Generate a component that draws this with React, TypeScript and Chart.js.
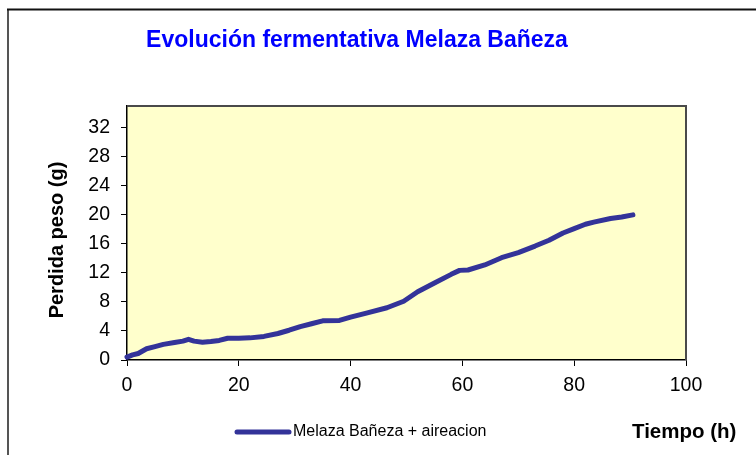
import React, { useEffect, useRef } from "react";
import { Chart, registerables } from "chart.js";

Chart.register(...registerables);

const TITLE = "Evolución fermentativa Melaza Bañeza";
const SERIES_LABEL = "Melaza Bañeza + aireacion";
const X_TITLE = "Tiempo (h)";
const Y_TITLE = "Perdida peso (g)";

const hours = [
  0, 1, 2, 3.5, 5, 6.5, 8.5, 10, 11, 12,
  13.5, 15, 16.5, 18, 20, 22, 24.5, 27, 29, 31,
  33, 35, 38, 40, 43, 46.5, 49.5, 52, 55, 58,
  59.5, 61, 64, 67, 70, 73, 75.5, 78, 80, 82,
  83.5, 86.5, 88.5, 90.5,
];
const weightLoss = [
  0.4, 0.7, 0.9, 1.55, 1.85, 2.15, 2.4, 2.6, 2.85, 2.6,
  2.45, 2.55, 2.7, 3.0, 3.0, 3.05, 3.25, 3.65, 4.1, 4.6,
  5.0, 5.4, 5.45, 5.9, 6.5, 7.2, 8.1, 9.4, 10.6, 11.8,
  12.35, 12.4, 13.1, 14.1, 14.8, 15.7, 16.5, 17.5, 18.1, 18.7,
  19.0, 19.5, 19.7, 20.0,
];
const xTicks = [0, 20, 40, 60, 80, 100];
const yTicks = [0, 4, 8, 12, 16, 20, 24, 28, 32];

const CW = 756;
const CH = 455;
const FONT = "'Liberation Sans', Arial, sans-serif";
const LINE_COLOR = "#333399";

const decor = {
  id: "decor",
  beforeDraw(chart: any) {
    const { ctx, chartArea: a } = chart;
    ctx.save();
    ctx.fillStyle = "#ffffff";
    ctx.fillRect(0, 0, CW, CH);
    ctx.fillStyle = "#FFFFCC";
    ctx.fillRect(a.left, a.top, a.right - a.left, a.bottom - a.top);
    // outer chart border (left and top visible)
    ctx.lineWidth = 2;
    ctx.strokeStyle = "#555555";
    ctx.beginPath();
    ctx.moveTo(8, CH + 5);
    ctx.lineTo(8, 9);
    ctx.stroke();
    ctx.strokeStyle = "#111111";
    ctx.beginPath();
    ctx.moveTo(7, 9.5);
    ctx.lineTo(CW + 5, 9.5);
    ctx.stroke();
    ctx.restore();
  },
  afterDraw(chart: any) {
    const { ctx, chartArea: a } = chart;
    ctx.save();
    // plot border top & right
    ctx.strokeStyle = "#4a4a4a";
    ctx.lineWidth = 2;
    ctx.beginPath();
    ctx.moveTo(a.left, a.top);
    ctx.lineTo(a.right, a.top);
    ctx.lineTo(a.right, a.bottom);
    ctx.stroke();

    // title
    ctx.fillStyle = "#0000FF";
    ctx.font = `bold 23px ${FONT}`;
    ctx.textAlign = "center";
    ctx.textBaseline = "middle";
    ctx.fillText(TITLE, 357, 41);

    // y title
    ctx.save();
    ctx.translate(57, 240);
    ctx.rotate(-Math.PI / 2);
    ctx.fillStyle = "#000";
    ctx.font = `bold 20px ${FONT}`;
    ctx.textAlign = "center";
    ctx.textBaseline = "middle";
    ctx.fillText(Y_TITLE, 0, 0);
    ctx.restore();

    // legend
    const ds = chart.data.datasets[0];
    ctx.strokeStyle = ds.borderColor;
    ctx.lineWidth = 5;
    ctx.lineCap = "round";
    ctx.beginPath();
    ctx.moveTo(237, 432);
    ctx.lineTo(289, 432);
    ctx.stroke();
    ctx.fillStyle = "#000";
    ctx.font = `16px ${FONT}`;
    ctx.textAlign = "left";
    ctx.textBaseline = "middle";
    ctx.fillText(ds.label, 293, 432);

    // x title
    ctx.font = `bold 20.5px ${FONT}`;
    ctx.textAlign = "left";
    ctx.fillText(X_TITLE, 632, 432);
    ctx.restore();
  },
};

export default function App() {
  const ref = useRef<HTMLCanvasElement | null>(null);
  useEffect(() => {
    if (!ref.current) return;
    const chart = new Chart(ref.current, {
      type: "line",
      data: {
        datasets: [
          {
            label: SERIES_LABEL,
            data: hours.map((h, i) => ({ x: h, y: weightLoss[i] })),
            borderColor: LINE_COLOR,
            backgroundColor: LINE_COLOR,
            borderWidth: 5,
            borderCapStyle: "round",
            borderJoinStyle: "round",
            pointRadius: 0,
            tension: 0,
            clip: 10,
          } as any,
        ],
      },
      options: {
        animation: false,
        responsive: false,
        devicePixelRatio: 1,
        layout: { padding: { top: 106, right: 70, left: 0, bottom: 0 } },
        plugins: {
          legend: { display: false },
          title: { display: false },
          tooltip: { enabled: false },
        },
        scales: {
          x: {
            type: "linear",
            min: 0,
            max: 100,
            afterBuildTicks: (s: any) => {
              s.ticks = xTicks.map((v) => ({ value: v }));
            },
            afterFit: (s: any) => {
              s.height = 95;
            },
            ticks: {
              color: "#000",
              font: { family: FONT, size: 19.5 },
              padding: 8,
              maxRotation: 0,
              autoSkip: false,
            },
            grid: {
              drawOnChartArea: false,
              drawTicks: true,
              tickLength: 6,
              color: "#000",
              tickWidth: 1,
            },
            border: { color: "#000", width: 1.5 },
          },
          y: {
            type: "linear",
            min: 0,
            max: 35,
            afterBuildTicks: (s: any) => {
              s.ticks = yTicks.map((v) => ({ value: v }));
            },
            afterFit: (s: any) => {
              s.width = 127;
            },
            ticks: {
              color: "#000",
              font: { family: FONT, size: 19.5 },
              padding: 11,
              autoSkip: false,
            },
            grid: {
              drawOnChartArea: false,
              drawTicks: true,
              tickLength: 6,
              color: "#000",
              tickWidth: 1,
            },
            border: { color: "#000", width: 1.5 },
          },
        },
      },
      plugins: [decor],
    });
    return () => chart.destroy();
  }, []);

  return (
    <div style={{ position: "absolute", left: 0, top: 0, width: 756, height: 455 }}>
      <canvas
        ref={ref}
        width={CW}
        height={CH}
        style={{ width: "756px", height: "455px", display: "block" }}
      />
    </div>
  );
}
